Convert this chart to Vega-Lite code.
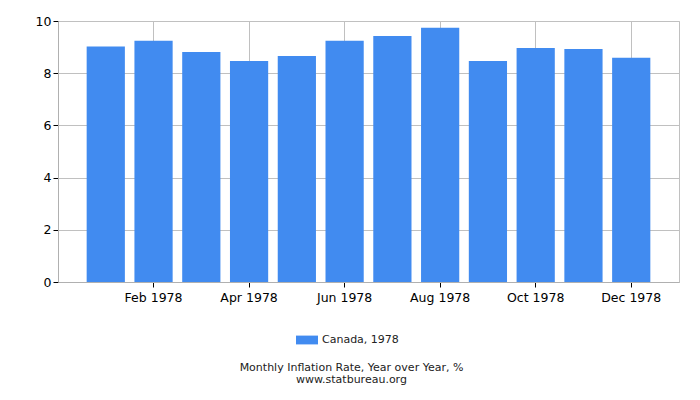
{
  "$schema": "https://vega.github.io/schema/vega-lite/v6.json",
  "width": 621,
  "height": 261,
  "padding": {"left": 35, "top": 15, "right": 5, "bottom": 5},
  "config": {
    "font": "DejaVu Sans",
    "view": {"stroke": "#c0c0c0"},
    "axis": {"gridColor": "#c0c0c0", "domainColor": "#b0b0b0", "tickColor": "#000000", "labelColor": "#000000", "labelFont": "DejaVu Sans"}
  },
  "data": {
    "values": [
      {"month": "Jan 1978", "value": 9.02, "series": "Canada, 1978"},
      {"month": "Feb 1978", "value": 9.24, "series": "Canada, 1978"},
      {"month": "Mar 1978", "value": 8.81, "series": "Canada, 1978"},
      {"month": "Apr 1978", "value": 8.47, "series": "Canada, 1978"},
      {"month": "May 1978", "value": 8.66, "series": "Canada, 1978"},
      {"month": "Jun 1978", "value": 9.24, "series": "Canada, 1978"},
      {"month": "Jul 1978", "value": 9.43, "series": "Canada, 1978"},
      {"month": "Aug 1978", "value": 9.74, "series": "Canada, 1978"},
      {"month": "Sep 1978", "value": 8.47, "series": "Canada, 1978"},
      {"month": "Oct 1978", "value": 8.97, "series": "Canada, 1978"},
      {"month": "Nov 1978", "value": 8.93, "series": "Canada, 1978"},
      {"month": "Dec 1978", "value": 8.59, "series": "Canada, 1978"}
    ]
  },
  "title": {
    "text": ["Monthly Inflation Rate, Year over Year, %", "www.statbureau.org"],
    "orient": "bottom",
    "anchor": "middle",
    "fontSize": 11,
    "fontWeight": "normal",
    "color": "#222222",
    "lineHeight": 12,
    "offset": 17,
    "dx": -17
  },
  "mark": {"type": "bar", "color": "#418bf0"},
  "encoding": {
    "x": {
      "field": "month",
      "type": "nominal",
      "sort": null,
      "scale": {"paddingInner": 0.2, "paddingOuter": 0.6},
      "axis": {
        "title": null,
        "labelAngle": 0,
        "values": ["Feb 1978", "Apr 1978", "Jun 1978", "Aug 1978", "Oct 1978", "Dec 1978"],
        "grid": true,
        "tickSize": 5,
        "labelFontSize": 12.5,
        "labelPadding": 4
      }
    },
    "y": {
      "field": "value",
      "type": "quantitative",
      "scale": {"domain": [0, 10]},
      "axis": {"title": null, "values": [0, 2, 4, 6, 8, 10], "tickSize": 5, "labelFontSize": 12.5, "labelPadding": 2}
    },
    "color": {
      "field": "series",
      "type": "nominal",
      "scale": {"range": ["#418bf0"]},
      "legend": {
        "title": null,
        "orient": "none",
        "legendX": 238,
        "legendY": 308,
        "direction": "horizontal",
        "labelFontSize": 11,
        "labelColor": "#222222",
        "symbolType": "M-1,-0.4H1V0.4H-1Z",
        "symbolSize": 484,
        "symbolStrokeWidth": 0,
        "symbolOpacity": 1
      }
    }
  }
}
